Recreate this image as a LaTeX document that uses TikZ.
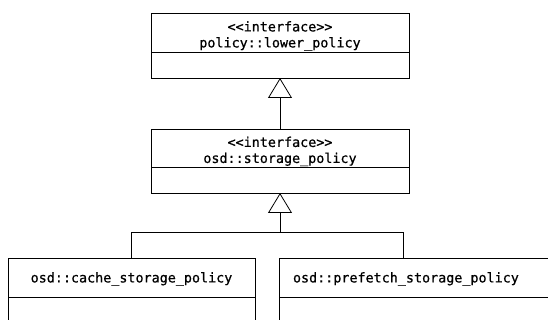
\documentclass[tikz,border=0pt]{standalone}
\usepackage{fontspec}
\setmonofont{DejaVu Sans Mono}[FakeBold=0.6]
\usetikzlibrary{arrows.meta}

\tikzset{
  classhead/.style={draw, rectangle, inner sep=0pt, outer sep=0pt, minimum height=39,
    font=\ttfamily\fontsize{13.4}{16}\selectfont, align=center},
  classbody/.style={draw, rectangle, inner sep=0pt, outer sep=0pt, minimum height=26},
  inherit/.style={-{Triangle[open, length=20pt, width=24pt]}, line width=0.8pt},
}

\begin{document}
\begin{tikzpicture}[x=1pt, y=-1pt, line width=0.8pt]

\clip (0,0) rectangle (548,320);

% Interfaces
\node[classhead, minimum width=258, anchor=north] (lowerhead) at (280,13) {\rule{0pt}{17pt}<<interface>>\\policy::lower\_policy};
\node[classbody, minimum width=258, anchor=north] (lowerbody) at (lowerhead.south) {};

\node[classhead, minimum width=258, minimum height=38, anchor=north] (storagehead) at (280,129) {\rule{0pt}{17pt}<<interface>>\\osd::storage\_policy};
\node[classbody, minimum width=258, anchor=north] (storagebody) at (storagehead.south) {};

% Implementations
\node[classhead, minimum width=247, anchor=north west] (cachehead) at (8,258) {\rule{0pt}{13pt}osd::cache\_storage\_policy};
\node[classbody, minimum width=247, minimum height=50, anchor=north] (cachebody) at (cachehead.south) {};

\node[classhead, text width=255, inner xsep=14pt, align=left, anchor=north west] (prefetchhead) at (279,258) {\rule{0pt}{13pt}osd::prefetch\_storage\_policy};
\node[classbody, minimum width=283, minimum height=50, anchor=north] (prefetchbody) at (prefetchhead.south) {};

% Generalisation
\coordinate (join) at (280,232);
\coordinate (prefetchdrop) at (403,258);

\draw[inherit] (storagehead.north) -- (lowerbody.south);
\draw[inherit] (join) -- (storagebody.south);
\draw (cachehead.north) |- (join);
\draw (prefetchdrop) |- (join);

\end{tikzpicture}
\end{document}
